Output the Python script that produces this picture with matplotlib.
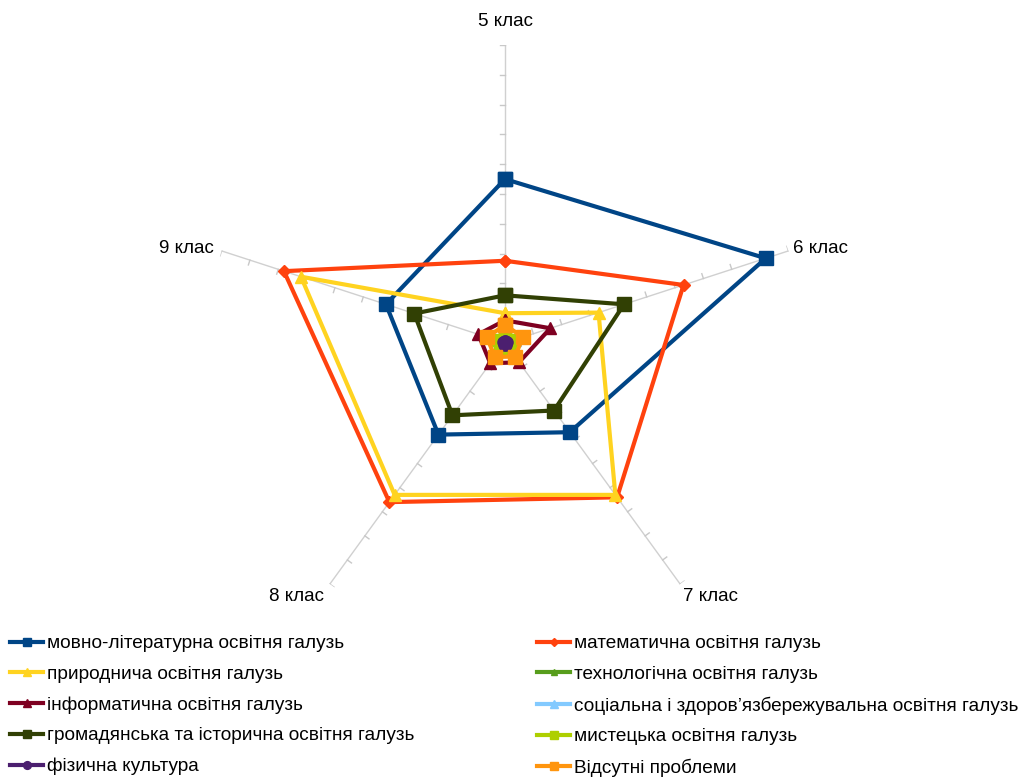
import numpy as np
import matplotlib
matplotlib.use("Agg")
import matplotlib.pyplot as plt
from matplotlib.lines import Line2D

plt.rcParams['font.family'] = ['Liberation Sans', 'DejaVu Sans']

categories = ["5 клас", "6 клас", "7 клас", "8 клас", "9 клас"]

series_names = [
    "мовно-літературна освітня галузь",
    "математична освітня галузь",
    "природнича освітня галузь",
    "технологічна освітня галузь",
    "інформатична освітня галузь",
    "соціальна і здоров’язбережувальна освітня галузь",
    "громадянська та історична освітня галузь",
    "мистецька освітня галузь",
    "фізична культура",
    "Відсутні проблеми",
]

movno = [27.5, 46.0, 18.5, 19.0, 21.0]
matem = [13.8, 31.5, 32.0, 33.0, 39.0]
pryrod = [5.0, 16.5, 31.5, 31.5, 36.0]
tekhn = [1.0, 1.0, 1.0, 1.0, 1.0]
inform = [3.8, 8.0, 4.0, 4.2, 4.7]
social = [1.8, 1.7, 1.6, 1.7, 1.8]
hromad = [8.0, 21.0, 14.0, 15.0, 16.0]
mystets = [1.4, 1.4, 1.3, 1.3, 1.4]
fizkult = [0.4, 0.4, 0.4, 0.4, 0.4]
vidsutni = [3.0, 3.2, 2.8, 2.9, 3.2]

values = [movno, matem, pryrod, tekhn, inform, social, hromad, mystets, fizkult, vidsutni]
colors = ["#004586", "#ff420e", "#ffd320", "#579d1c", "#7e0021",
          "#83caff", "#314004", "#aecf00", "#4b1f6f", "#ff950e"]
markers = ["s", "D", "^", "^", "^", "^", "s", "s", "o", "s"]
msizes = [9.5, 6.5, 9, 7, 9, 8, 9.5, 8, 8, 9.5]

rmax = 50
tick_step = 5

fig = plt.figure(figsize=(10.25, 7.79), dpi=100)
ax = fig.add_axes([505/1025 - 298/1025, 1 - (343 + 298)/779, 596/1025, 596/779],
                  projection='polar')
ax.set_theta_offset(np.pi/2)
ax.set_theta_direction(-1)
ax.set_ylim(0, rmax)
ax.grid(False)
ax.spines['polar'].set_visible(False)
ax.set_xticks([])
ax.set_yticks([])
ax.patch.set_alpha(0)

n = len(categories)
angles = np.arange(n) * 2*np.pi/n

# spokes and tick marks
tick_len = 0.85
for th in angles:
    ax.plot([th, th], [0, rmax], color="#d0d0d0", lw=1.0, zorder=1)
    for r in np.arange(tick_step, rmax + 0.01, tick_step):
        dth = np.arctan(tick_len / r)
        ax.plot([th, th - dth], [r, np.hypot(r, tick_len)], color="#c8c8c8", lw=1.0, zorder=1)

label_offsets = [(0, 17), (23, 2), (22, -9), (-24, -9), (-25, 2)]
for th, lab, off in zip(angles, categories, label_offsets):
    ax.annotate(lab, xy=(th, rmax), xytext=off, textcoords='offset points',
                ha='center', va='center', fontsize=13.5, color='black',
                annotation_clip=False)

ang_closed = np.concatenate([angles, angles[:1]])
handles = []
for vals, name, c, m, ms in zip(values, series_names, colors, markers, msizes):
    v = np.array(vals + vals[:1])
    ax.plot(ang_closed, v, color=c, lw=3, marker=m, markersize=ms,
            markeredgecolor=c, markerfacecolor=c, zorder=3, clip_on=False)
    handles.append(Line2D([0], [0], color=c, lw=3, marker=m, markersize=min(ms, 9)*0.7,
                          markeredgecolor=c, markerfacecolor=c))

left_idx = [0, 2, 4, 6, 8]
right_idx = [1, 3, 5, 7, 9]
common = dict(frameon=False, fontsize=13.7, handlelength=1.75, handletextpad=0.2,
              borderpad=0, borderaxespad=0, labelspacing=0.7, loc='upper left')
fig.legend([handles[i] for i in left_idx], [series_names[i] for i in left_idx],
           bbox_to_anchor=(10/1025, 1 - 635/779), **common)
fig.legend([handles[i] for i in right_idx], [series_names[i] for i in right_idx],
           bbox_to_anchor=(537/1025, 1 - 635/779), **common)

fig.savefig("out.png", dpi=100)
